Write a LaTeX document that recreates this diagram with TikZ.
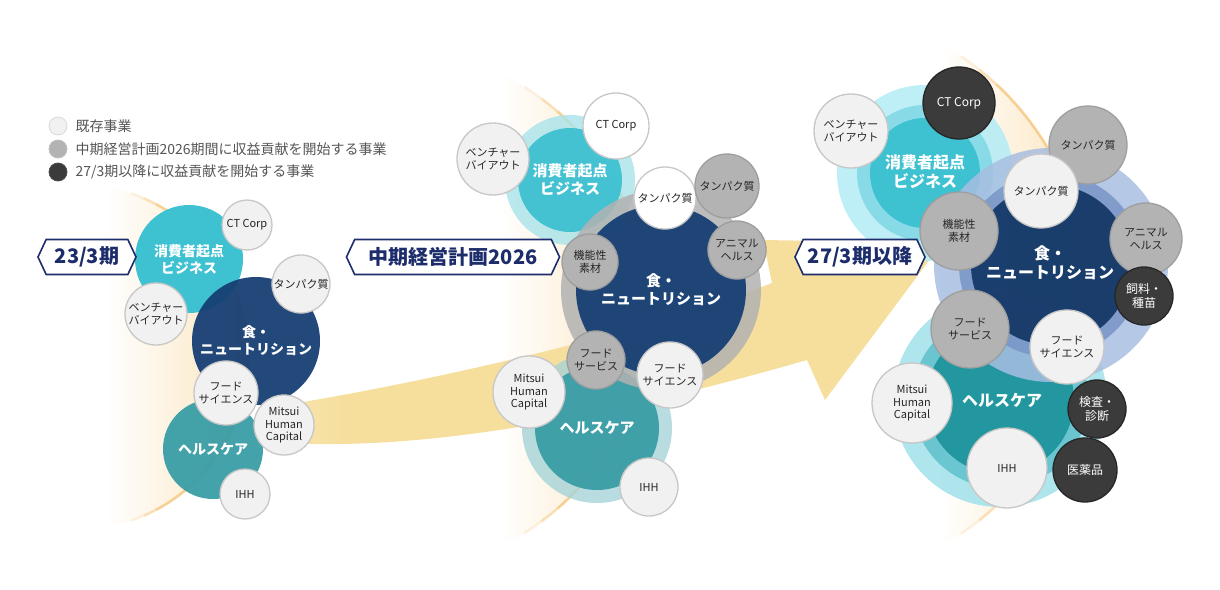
\documentclass[tikz,border=0pt]{standalone}
\usepackage{fontspec}
\setmainfont{Noto Sans CJK JP}
\usepackage{tikz}
\usetikzlibrary{positioning,shapes.symbols}

\definecolor{consCy}{HTML}{3EC1D1}
\definecolor{foodNv}{HTML}{173F74}
\definecolor{hlthTl}{HTML}{3A9DA6}
\definecolor{bizLight}{HTML}{F1F1F1}
\definecolor{bizMid}{HTML}{B3B3B3}
\definecolor{bizDark}{HTML}{3B3B3B}
\definecolor{tagNavy}{HTML}{1D2D6B}
\definecolor{legendTxt}{HTML}{555555}
\definecolor{arrowYel}{HTML}{F6DE9C}
\definecolor{glowBeige}{HTML}{FBE4BC}
\definecolor{arcOrange}{HTML}{F2B04A}
\definecolor{consHalo}{HTML}{B7EDF5}
\definecolor{consRing}{HTML}{83D9E6}
\definecolor{foodHalo}{HTML}{A8BEE2}
\definecolor{foodRing}{HTML}{7895C7}
\definecolor{hlthHalo}{HTML}{A6E3EC}
\definecolor{hlthRing}{HTML}{63C3CE}
\definecolor{hlthCore}{HTML}{22979F}
\pgfdeclarehorizontalshading{bandshade}{100bp}{color(0bp)=(white); color(30bp)=(arrowYel); color(100bp)=(arrowYel)}

\newcommand{\smalltxt}{\fontsize{11}{12.5}\selectfont}
\newcommand{\darktxt}{\fontsize{12}{14}\selectfont}
\newcommand{\legtxt}{\fontsize{14}{16}\selectfont}
\newcommand{\tagtxt}{\fontsize{20}{22}\selectfont\bfseries}

\tikzset{
  biz/.style={circle, inner sep=0pt, line width=1.3pt, align=center, font=\smalltxt},
  bizlight/.style={biz, fill=bizLight, draw=black!22, text=black!85},
  bizwhite/.style={biz, fill=white, draw=black!22, text=black!85},
  bizmid/.style={biz, fill=bizMid, draw=black!38, text=black!85},
  bizdark/.style={biz, fill=bizDark, draw=black!85, text=white, font=\darktxt},
  segcore/.style={circle, inner sep=0pt, text=white, align=center},
  stagetag/.style={signal, signal to=east and west, signal pointer angle=130,
    draw=tagNavy, line width=1.6pt, fill=white, text=tagNavy, font=\tagtxt,
    minimum height=35pt, inner xsep=4pt},
  legdot/.style={circle, inner sep=0pt, minimum size=18pt, line width=0.8pt},
  arcline/.style={arcOrange, line width=2.6pt},
}

\begin{document}
\begin{tikzpicture}[x=1pt,y=-1pt]
\useasboundingbox (0,0) rectangle (1220,589);

\begin{scope}
  \clip (75,357) circle[radius=173pt];
  \shade[left color=white, right color=glowBeige] (105,185) rectangle (250,530);
\end{scope}
\begin{scope}
  \clip (385,310) circle[radius=263pt];
  \shade[left color=white, right color=glowBeige] (500,75) rectangle (650,545);
\end{scope}
\begin{scope}
  \clip (800,295) circle[radius=288pt];
  \shade[left color=white, right color=glowBeige] (940,45) rectangle (1090,545);
\end{scope}
\foreach \cx/\cy/\rr/\aa in {75/357/173/71, 385/310/263/58, 800/295/288/56} {
  \draw[arcline, opacity=.55] (\cx,\cy) ++(\aa-9:\rr pt) arc[start angle=\aa-9, end angle=-\aa+9, radius=\rr pt];
  \draw[arcline, opacity=.35] (\cx,\cy) ++(\aa-4.5:\rr pt) arc[start angle=\aa-4.5, end angle=\aa-9, radius=\rr pt];
  \draw[arcline, opacity=.35] (\cx,\cy) ++(-\aa+9:\rr pt) arc[start angle=-\aa+9, end angle=-\aa+4.5, radius=\rr pt];
  \draw[arcline, opacity=.15] (\cx,\cy) ++(\aa:\rr pt) arc[start angle=\aa, end angle=\aa-4.5, radius=\rr pt];
  \draw[arcline, opacity=.15] (\cx,\cy) ++(-\aa+4.5:\rr pt) arc[start angle=-\aa+4.5, end angle=-\aa, radius=\rr pt];
}

\shade[shading=bandshade] (285,405) .. controls (450,378) and (650,330) .. (772,283)
  -- (763,240) -- (942,243) -- (825,400) -- (807,360)
  .. controls (650,405) and (450,452) .. (285,443) -- cycle;

\node[legdot, fill=bizLight, draw=black!15] (lg1) at (58,126) {};
\node[legdot, fill=bizMid, draw=black!25] (lg2) at (58,149) {};
\node[legdot, fill=bizDark, draw=black!70] (lg3) at (58,172) {};
\node[anchor=west, font=\legtxt, text=legendTxt] at (72,126) {既存事業};
\node[anchor=west, font=\legtxt, text=legendTxt] at (72,149) {中期経営計画2026期間に収益貢献を開始する事業};
\node[anchor=west, font=\legtxt, text=legendTxt] at (72,172) {27/3期以降に収益貢献を開始する事業};

\node[segcore, fill=consCy, minimum size=108pt, font=\fontsize{14}{17}\selectfont\bfseries] (cons1) at (189,259) {消費者起点\\ビジネス};
\node[segcore, fill=foodNv, opacity=.95, text opacity=1, minimum size=128pt, font=\fontsize{14}{17}\selectfont\bfseries] (food1) at (256,341) {食・\\ニュートリション};
\node[segcore, fill=hlthTl, opacity=.95, text opacity=1, minimum size=100pt, font=\fontsize{14}{17}\selectfont\bfseries] (hc1) at (213,449) {ヘルスケア};
\node[bizlight, minimum size=50pt] (ct1) at (247,225) {CT Corp};
\node[bizlight, minimum size=58pt] (tan1) at (301,284) {タンパク質};
\node[bizlight, minimum size=62pt] (vbo1) at (156,314) {ベンチャー\\バイアウト};
\node[bizlight, minimum size=64pt] (fs1) at (226,393) {フード\\サイエンス};
\node[bizlight, minimum size=60pt] (mhc1) at (284,425) {Mitsui\\Human\\Capital};
\node[bizlight, minimum size=50pt] (ihh1) at (245,494) {IHH};

\fill[fill=consCy!45, opacity=.8] (570,180) circle[radius=65pt];
\node[segcore, fill=consCy, opacity=.95, text opacity=1, minimum size=104pt] (cons2) at (570,180) {};
\fill[fill=hlthTl!45, opacity=.8] (597,428) circle[radius=75pt];
\node[segcore, fill=hlthTl, opacity=.95, text opacity=1, minimum size=124pt] (hc2) at (597,428) {};
\fill[fill=black!30, opacity=.85] (661,290) circle[radius=100pt];
\node[segcore, fill=foodNv, opacity=.95, text opacity=1, minimum size=170pt] (food2) at (661,290) {};
\node[text=white, align=center, font=\fontsize{15}{18}\selectfont\bfseries] at (cons2) {消費者起点\\ビジネス};
\node[text=white, align=center, font=\fontsize{15}{18}\selectfont\bfseries] at (food2) {食・\\ニュートリション};
\node[text=white, align=center, font=\fontsize{15}{18}\selectfont\bfseries] at (hc2) {ヘルスケア};
\node[bizlight, minimum size=72pt] (vbo2) at (493,159) {ベンチャー\\バイアウト};
\node[bizwhite, minimum size=66pt] (ct2) at (616,126) {CT Corp};
\node[bizwhite, minimum size=62pt] (tanw2) at (665,198) {タンパク質};
\node[bizmid, minimum size=64pt] (tang2) at (727,186) {タンパク質};
\node[bizmid, minimum size=58pt] (ah2) at (737,250) {アニマル\\ヘルス};
\node[bizmid, minimum size=56pt] (kfm2) at (590,262) {機能性\\素材};
\node[bizmid, minimum size=58pt] (fsv2) at (596,360) {フード\\サービス};
\node[bizlight, minimum size=66pt] (fs2) at (670,375) {フード\\サイエンス};
\node[bizlight, minimum size=72pt] (mhc2) at (529,392) {Mitsui\\Human\\Capital};
\node[bizlight, minimum size=58pt] (ihh2) at (649,487) {IHH};

\fill[fill=consHalo, opacity=.9] (925,173) circle[radius=88pt];
\fill[fill=consRing, opacity=.9] (925,173) circle[radius=68pt];
\node[segcore, fill=consCy, minimum size=110pt] (cons3) at (925,173) {};
\fill[fill=hlthHalo, opacity=.9] (1000,400) circle[radius=107pt];
\fill[fill=hlthRing, opacity=.9] (1000,400) circle[radius=88pt];
\node[segcore, fill=hlthCore, minimum size=148pt] (hc3) at (1000,400) {};
\fill[fill=foodHalo, opacity=.85] (1051,265) circle[radius=117pt];
\fill[fill=foodRing, opacity=.85] (1051,265) circle[radius=92pt];
\node[segcore, fill=foodNv!90!black, opacity=.95, minimum size=160pt] (food3) at (1051,265) {};
\node[text=white, align=center, font=\fontsize{16}{19}\selectfont\bfseries] at (925,172) {消費者起点\\ビジネス};
\node[text=white, align=center, font=\fontsize{16}{19}\selectfont\bfseries] at (1050,263) {食・\\ニュートリション};
\node[text=white, align=center, font=\fontsize{16}{19}\selectfont\bfseries] at (1002,400) {ヘルスケア};
\node[bizlight, minimum size=74pt] (vbo3) at (851,131) {ベンチャー\\バイアウト};
\node[bizdark, minimum size=72pt] (ct3) at (959,103) {CT Corp};
\node[bizmid, minimum size=78pt] (tang3) at (1088,145) {タンパク質};
\node[bizlight, minimum size=74pt] (tanl3) at (1041,191) {タンパク質};
\node[bizmid, minimum size=78pt] (kfm3) at (959,231) {機能性\\素材};
\node[bizmid, minimum size=72pt] (ah3) at (1146,239) {アニマル\\ヘルス};
\node[bizdark, minimum size=58pt] (srs3) at (1144,296) {飼料・\\種苗};
\node[bizmid, minimum size=78pt] (fsv3) at (970,329) {フード\\サービス};
\node[bizlight, minimum size=74pt] (fs3) at (1067,347) {フード\\サイエンス};
\node[bizlight, minimum size=80pt] (mhc3) at (912,403) {Mitsui\\Human\\Capital};
\node[bizdark, minimum size=58pt] (ks3) at (1097,409) {検査・\\診断};
\node[bizlight, minimum size=80pt] (ihh3) at (1007,468) {IHH};
\node[bizdark, minimum size=64pt] (iyk3) at (1085,470) {医薬品};

\node[stagetag, minimum width=98pt] (tag1) at (87,257) {23/3期};
\node[stagetag, minimum width=213pt] (tag2) at (453,257) {中期経営計画2026};
\node[stagetag, minimum width=130pt] (tag3) at (860,257) {27/3期以降};
\end{tikzpicture}
\end{document}
